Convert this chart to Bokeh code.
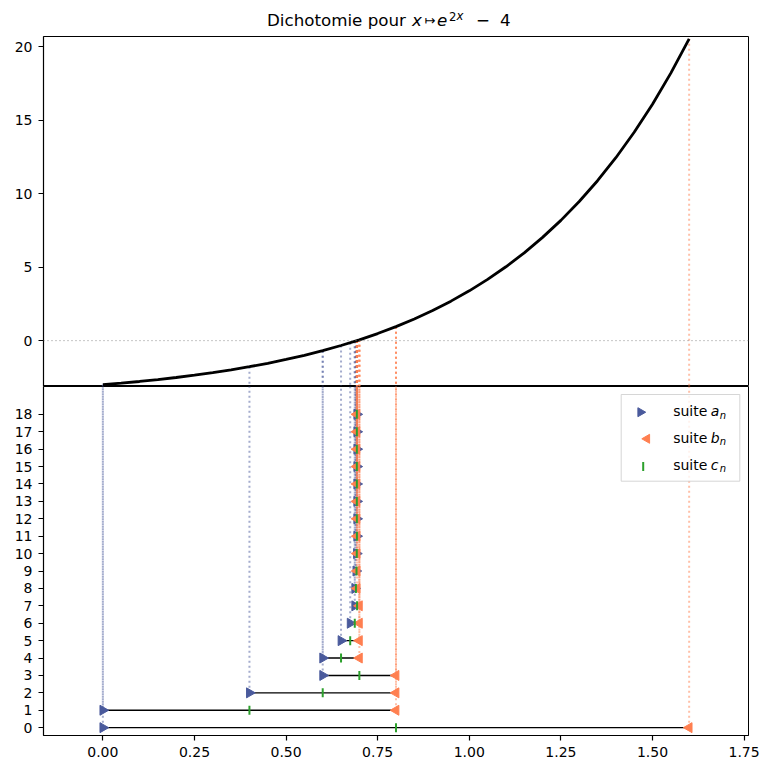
import math
from bokeh.plotting import figure
from bokeh.layouts import column
from bokeh.models import (Range1d, FixedTicker, NumeralTickFormatter, Span)
from bokeh.core.properties import value
from bokeh.embed import file_html
from bokeh.resources import INLINE

# ---------------- data ----------------
n_values = list(range(19))
a_values = [0.0, 0.0, 0.4, 0.6, 0.6, 0.65, 0.675, 0.6875, 0.6875, 0.690625,
            0.6921875, 0.69296875, 0.69296875, 0.69296875, 0.69306640625,
            0.693115234375, 0.6931396484375, 0.6931396484375, 0.693145751953125]
b_values = [1.6, 0.8, 0.8, 0.8, 0.7, 0.7, 0.7, 0.7, 0.69375, 0.69375,
            0.69375, 0.69375, 0.693359375, 0.6931640625, 0.6931640625,
            0.6931640625, 0.6931640625, 0.69315185546875, 0.69315185546875]
c_values = [0.8, 0.4, 0.6, 0.7, 0.65, 0.675, 0.6875, 0.69375, 0.690625,
            0.6921875, 0.69296875, 0.693359375, 0.6931640625, 0.69306640625,
            0.693115234375, 0.6931396484375, 0.69315185546875,
            0.693145751953125, 0.6931488037109375]
fa_values = [-3.0, -3.0, -1.7745, -0.6799, -0.6799, -0.3307, -0.1427, -0.0448,
             -0.0448, -0.0200, -0.0077, -0.0014, -0.0014, -0.0014, -0.0006,
             -0.0002, -0.0001, -0.0001, -0.00001]
fb_values = [20.5325, 0.9530, 0.9530, 0.9530, 0.0552, 0.0552, 0.0552, 0.0552,
             0.0048, 0.0048, 0.0048, 0.0048, 0.0017, 0.0001, 0.0001, 0.0001,
             0.0001, 0.00004, 0.00004]
curve_x = [0.00, 0.05, 0.10, 0.15, 0.20, 0.25, 0.30, 0.35, 0.40, 0.45, 0.50,
           0.55, 0.60, 0.65, 0.70, 0.75, 0.80, 0.85, 0.90, 0.95, 1.00, 1.05,
           1.10, 1.15, 1.20, 1.25, 1.30, 1.35, 1.40, 1.45, 1.50, 1.55, 1.60]
curve_y = [-3.0, -2.8948, -2.7786, -2.6501, -2.5082, -2.3513, -2.1779, -1.9863,
           -1.7745, -1.5404, -1.2817, -0.9958, -0.6799, -0.3307, 0.0552, 0.4817,
           0.9530, 1.4739, 2.0496, 2.6859, 3.3891, 4.1662, 5.0250, 5.9742,
           7.0232, 8.1825, 9.4637, 10.8797, 12.4446, 14.1741, 16.0855, 18.1980,
           20.5325]
top_yticks = [0, 5, 10, 15, 20]
bottom_xticks = [0.0, 0.25, 0.5, 0.75, 1.0, 1.25, 1.5, 1.75]
legend_names = ["a", "b", "c"]

# ---------------- style ----------------
BLUE = "#4a5a9c"
ORANGE = "#ff7f50"
GREEN = "#2ca02c"
FONT = "DejaVu Sans"
TICK_FS = "14px"
TITLE_FS = "16.7px"
SUP_FS = "11.7px"

W = 761
FL, FR = 43, 748          # frame left / right (page px)
TOP_H = 36                # title strip height
P1_H = 350                # top panel frame height
P2_FRAME_H = 349
P2_H = 376

x_range = Range1d(-0.162, 1.762)
top_range = Range1d(-3.12, 20.69)
bot_range = Range1d(-0.45, 19.6)


def style_axes(p):
    p.xgrid.visible = False
    p.ygrid.visible = False
    p.outline_line_color = "black"
    p.outline_line_width = 1.0
    p.background_fill_color = "white"
    p.border_fill_color = "white"
    for ax in p.axis:
        ax.axis_line_color = "black"
        ax.axis_line_width = 1.2
        ax.major_tick_line_color = "black"
        ax.major_tick_line_width = 1.2
        ax.major_tick_out = 5
        ax.major_tick_in = 0
        ax.minor_tick_line_color = None
        ax.major_label_standoff = 6
        ax.major_label_text_font = FONT
        ax.major_label_text_font_size = TICK_FS
        ax.major_label_text_color = "black"


# ---------------- title strip ----------------
p0 = figure(width=W, height=TOP_H, x_range=Range1d(FL, FR),
            y_range=Range1d(TOP_H, 0), output_backend="svg",
            toolbar_location=None, x_axis_location=None, y_axis_location=None,
            min_border_left=FL, min_border_right=W - FR, min_border_top=0,
            min_border_bottom=0, outline_line_color=None)
p0.xgrid.visible = False
p0.ygrid.visible = False


def tpiece(x, y_mid, txt, style="normal", size=TITLE_FS):
    p0.text(x=[x], y=[y_mid], text=[txt], text_font=value(FONT),
            text_font_size=value(size), text_font_style=style,
            text_color="black", text_baseline="middle", text_align="left")


# vertical middles (baseline - 0.346 * font size)
MID = 25.7 - 0.346 * 16.7
SMID = 20.0 - 0.346 * 11.7
tpiece(266.5, MID, "Dichotomie pour")
tpiece(411.5, MID, "x", "italic")
tpiece(424.0, MID, "↦", "normal", "13px")
tpiece(436.5, MID, "e", "italic")
tpiece(448.5, SMID, "2", "normal", SUP_FS)
tpiece(456.0, SMID, "x", "italic", SUP_FS)
tpiece(475.5, MID, "−")
tpiece(499.5, MID, "4")

# ---------------- top panel ----------------
p1 = figure(width=W, height=P1_H, x_range=x_range, y_range=top_range,
            output_backend="svg", toolbar_location=None, x_axis_location=None,
            min_border_left=FL, min_border_right=W - FR, min_border_top=0,
            min_border_bottom=0)
style_axes(p1)
p1.yaxis.ticker = FixedTicker(ticks=top_yticks)

p1.add_layout(Span(location=0, dimension="width", line_color="gray",
                   line_width=1.0, line_dash="1 3", line_alpha=0.9))

low = [top_range.start - 5] * len(n_values)
p1.segment(x0=a_values, y0=fa_values, x1=a_values, y1=low,
           line_color=BLUE, line_alpha=0.5, line_width=2, line_dash="2 3")
p1.segment(x0=b_values, y0=fb_values, x1=b_values, y1=low,
           line_color=ORANGE, line_alpha=0.5, line_width=2, line_dash="2 3")
p1.line(curve_x, curve_y, line_color="black", line_width=2.8)

# ---------------- bottom panel ----------------
p2 = figure(width=W, height=P2_H, x_range=x_range, y_range=bot_range,
            output_backend="svg", toolbar_location=None,
            min_border_left=FL, min_border_right=W - FR, min_border_top=0,
            min_border_bottom=P2_H - P2_FRAME_H)
style_axes(p2)
p2.yaxis.ticker = FixedTicker(ticks=n_values)
p2.xaxis.ticker = FixedTicker(ticks=bottom_xticks)
p2.xaxis.formatter = NumeralTickFormatter(format="0.00")

high = [bot_range.end + 5] * len(n_values)
p2.segment(x0=a_values, y0=n_values, x1=a_values, y1=high,
           line_color=BLUE, line_alpha=0.5, line_width=2, line_dash="2 3")
p2.segment(x0=b_values, y0=n_values, x1=b_values, y1=high,
           line_color=ORANGE, line_alpha=0.5, line_width=2, line_dash="2 3")
p2.segment(x0=a_values, y0=n_values, x1=b_values, y1=n_values,
           line_color="black", line_width=1.4)

p2.scatter(a_values, n_values, marker="triangle", size=10,
           angle=-math.pi / 2, fill_color=BLUE, line_color=BLUE)
p2.scatter(b_values, n_values, marker="triangle", size=10,
           angle=math.pi / 2, fill_color=ORANGE, line_color=ORANGE)
p2.scatter(c_values, n_values, marker="dash", size=9,
           angle=math.pi / 2, line_color=GREEN, line_width=2)

# ---------------- legend (drawn by hand so markers keep their rotation) ----
P2_TOP = TOP_H + P1_H      # page y of bottom panel frame top


def X2(px):
    return x_range.start + (px - FL) / (FR - FL) * (x_range.end - x_range.start)


def Y2(py):
    return bot_range.end - (py - P2_TOP) / P2_FRAME_H * (bot_range.end - bot_range.start)


p2.quad(left=[X2(620.7)], right=[X2(739.3)], top=[Y2(394)], bottom=[Y2(480.7)],
        fill_color="white", fill_alpha=0.8, line_color="#cccccc",
        line_alpha=0.8, line_width=1)
p2.scatter([X2(640.0)], [Y2(411.7)], marker="triangle", size=9,
           angle=-math.pi / 2, fill_color=BLUE, line_color=BLUE)
p2.scatter([X2(646.5)], [Y2(438.3)], marker="triangle", size=9,
           angle=math.pi / 2, fill_color=ORANGE, line_color=ORANGE)
p2.scatter([X2(642.7)], [Y2(466.0)], marker="dash", size=9,
           angle=math.pi / 2, line_color=GREEN, line_width=2)

row_base = [415.7, 442.4, 469.2]
LMID = 0.346 * 14
SUBMID = 0.346 * 10
for name, yb in zip(legend_names, row_base):
    p2.text(x=[X2(672.7)], y=[Y2(yb - LMID)], text=["suite"],
            text_font=value(FONT), text_font_size=value(TICK_FS),
            text_color="black", text_baseline="middle", text_align="left")
    p2.text(x=[X2(710.3)], y=[Y2(yb - LMID)], text=[name],
            text_font=value(FONT), text_font_size=value(TICK_FS),
            text_font_style="italic", text_color="black",
            text_baseline="middle", text_align="left")
    p2.text(x=[X2(719.3)], y=[Y2(yb + 2.5 - SUBMID)], text=["n"],
            text_font=value(FONT), text_font_size=value("10px"),
            text_font_style="italic", text_color="black",
            text_baseline="middle", text_align="left")

layout = column(p0, p1, p2, spacing=0)
open("out.html", "w").write(file_html(layout, INLINE))
